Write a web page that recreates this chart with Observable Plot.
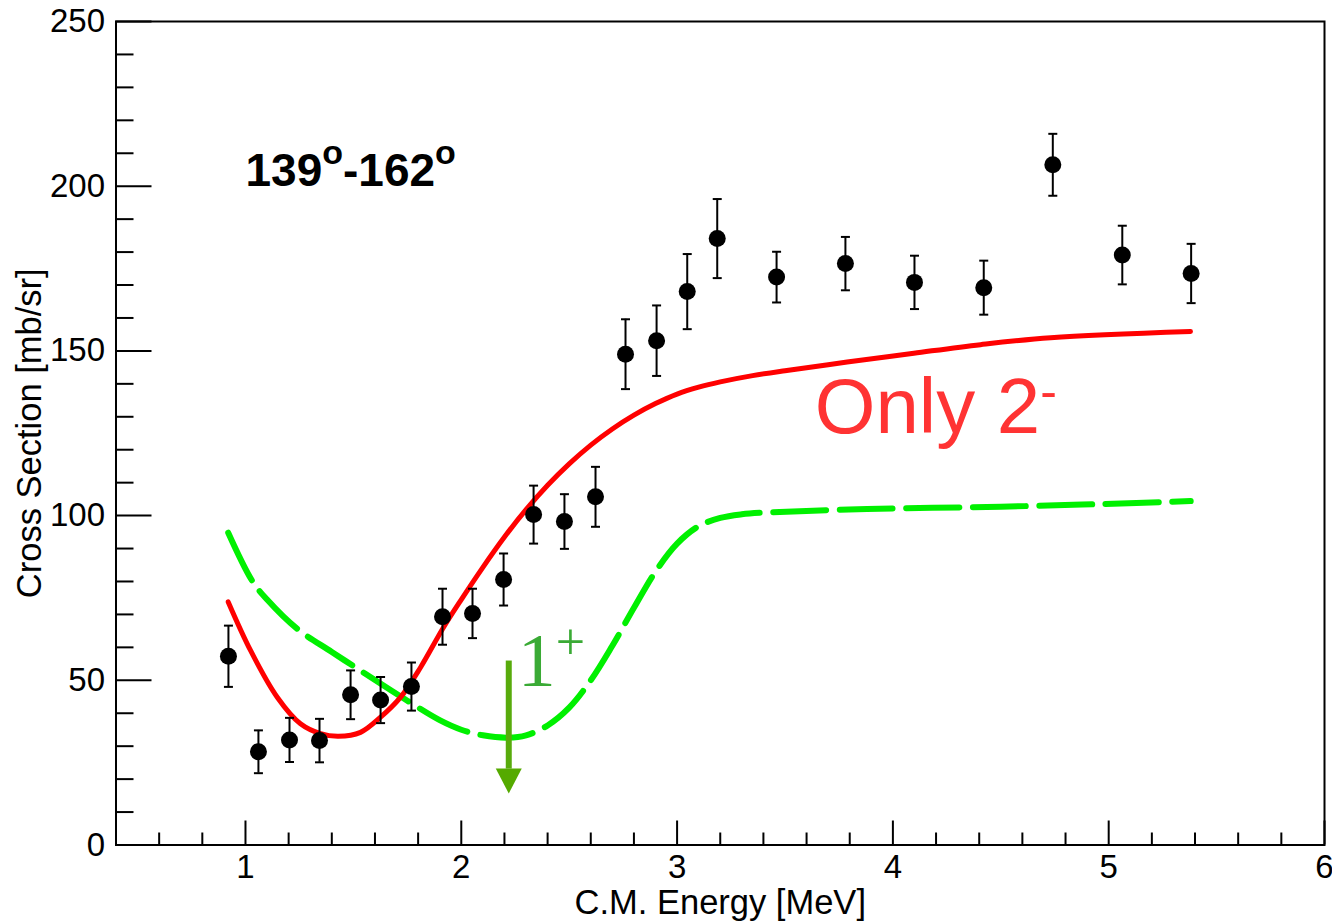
<!DOCTYPE html>
<html>
<head>
<meta charset="utf-8">
<script src="https://cdn.jsdelivr.net/npm/d3@7"></script>
<script src="https://cdn.jsdelivr.net/npm/@observablehq/plot@0.6"></script>
<style>
  html, body { margin: 0; padding: 0; background: #fff; }
  #chart svg { display: block; }
</style>
</head>
<body>
<div id="chart"></div>
<script>
// ---- measured data points (C.M. energy [MeV], cross section [mb/sr], error) ----
const energy = [0.921, 1.060, 1.204, 1.343, 1.487, 1.626, 1.769, 1.913, 2.052, 2.196, 2.335, 2.478,
                2.622, 2.761, 2.905, 3.047, 3.186, 3.461, 3.780, 4.100, 4.421, 4.741, 5.063, 5.382];
const crossSection = [57.3, 28.3, 31.9, 31.7, 45.6, 44.0, 48.1, 69.3, 70.3, 80.6, 100.3, 98.2,
                      105.7, 149.0, 153.1, 168.0, 184.1, 172.4, 176.5, 170.8, 169.2, 206.5, 179.1, 173.5];
const crossError = [9.3, 6.5, 6.7, 6.6, 7.4, 7.0, 7.3, 8.5, 7.5, 7.9, 8.8, 8.3,
                    9.1, 10.6, 10.7, 11.4, 12.0, 7.7, 8.1, 8.1, 8.2, 9.4, 8.9, 9.0];

// ---- "Only 2-" calculation (red solid) ----
const only2Energy = [0.92, 1.024, 1.148, 1.255, 1.348, 1.431, 1.533, 1.626, 1.718, 1.811, 1.918, 2.0,
                     2.1, 2.2, 2.3, 2.4, 2.5, 2.6, 2.7, 2.8, 2.9, 3.0, 3.1, 3.2,
                     3.35, 3.5, 3.788, 4.097, 4.406, 4.731, 5.379];
const only2Cross = [73.8, 59.0, 44.8, 36.8, 33.8, 33.0, 34.2, 38.8, 44.8, 53.9, 66.1, 74.5,
                    84.3, 93.5, 101.8, 109.2, 115.7, 121.4, 126.3, 130.5, 134.0, 136.9, 139.0, 140.6,
                    142.5, 144.0, 146.6, 149.3, 151.9, 154.0, 155.9];

// ---- "1+" calculation (green dashed) ----
const plus1Energy = [0.92, 1.031, 1.1, 1.24, 1.4, 1.55, 1.75, 1.9, 2.0, 2.1, 2.214, 2.3,
                     2.4, 2.5, 2.6, 2.7, 2.8, 2.9, 3.0, 3.1, 3.2, 3.3, 3.4, 3.88,
                     4.5, 4.96, 5.38];
const plus1Cross = [94.8, 80.2, 74.5, 65.6, 58.6, 52.2, 43.8, 37.9, 35.0, 33.3, 32.6, 33.3,
                    36.3, 41.7, 50.0, 60.5, 72.0, 83.0, 91.5, 96.8, 99.3, 100.4, 100.9, 102.0,
                    102.7, 103.5, 104.4];

// ---- 1+ resonance arrow ----
const arrowEnergy = [2.22];
const arrowTop = [56];
const arrowBase = [23.2];
const arrowTip = [15.6];

// ---- ticks ----
const xMajorTicks = [1, 2, 3, 4, 5, 6];
const xMinorTicks = [0.6, 0.8, 1.2, 1.4, 1.6, 1.8, 2.2, 2.4, 2.6, 2.8, 3.2, 3.4, 3.6, 3.8,
                     4.2, 4.4, 4.6, 4.8, 5.2, 5.4, 5.6, 5.8];
const yMajorTicks = [0, 50, 100, 150, 200, 250];
const yMinorTicks = [10, 20, 30, 40, 60, 70, 80, 90, 110, 120, 130, 140, 160, 170, 180, 190,
                     210, 220, 230, 240];

// ---- texts ----
const xTitle = "C.M. Energy [MeV]";
const yTitle = "Cross Section [mb/sr]";
const angleLabel = "139o-162o";
const only2Label = "Only 2-";
const plus1Label = "1+";

// tables built from arrays
const points = energy.map((e, i) => ({e, y: crossSection[i], lo: crossSection[i] - crossError[i], hi: crossSection[i] + crossError[i]}));
const only2 = only2Energy.map((e, i) => ({e, y: only2Cross[i]}));
const plus1 = plus1Energy.map((e, i) => ({e, y: plus1Cross[i]}));
const arrow = arrowEnergy.map((e, i) => ({e, top: arrowTop[i], base: arrowBase[i], tip: arrowTip[i]}));

const SANS = '"Liberation Sans", Arial, Helvetica, sans-serif';
const SERIF = '"Liberation Serif", "Times New Roman", serif';

const capSymbol = {draw(ctx) { ctx.moveTo(-4.5, 0); ctx.lineTo(4.5, 0); }};
const headSymbol = {draw(ctx) { ctx.moveTo(0, 0); ctx.lineTo(-13, -25); ctx.lineTo(13, -25); ctx.closePath(); }};

const chart = Plot.plot({
  width: 1332,
  height: 922,
  marginLeft: 115.5,
  marginRight: 8,
  marginTop: 21,
  marginBottom: 77.5,
  style: {fontFamily: SANS, fontSize: "33px", background: "#fff", color: "#000"},
  x: {domain: [0.4, 6], label: null},
  y: {domain: [0, 250], label: null},
  marks: [
    // inner ticks
    Plot.axisY({ticks: yMinorTicks, tickSize: -18, tickFormat: () => "", label: null, strokeWidth: 2}),
    Plot.axisY({ticks: yMajorTicks, tickSize: -36, tickFormat: () => "", label: null, strokeWidth: 2}),
    Plot.axisX({ticks: xMinorTicks, tickSize: -12, tickFormat: () => "", label: null, strokeWidth: 2}),
    Plot.axisX({ticks: xMajorTicks, tickSize: -24, tickFormat: () => "", label: null, strokeWidth: 2}),
    // tick labels
    Plot.axisY({ticks: yMajorTicks, tickSize: 0, tickPadding: 11, tickFormat: d3.format("d"), label: null, fontSize: 33}),
    Plot.axisX({ticks: xMajorTicks, tickSize: 0, tickPadding: 10, tickFormat: d3.format("d"), label: null, fontSize: 33}),
    Plot.frame({stroke: "#000", strokeWidth: 2}),
    // axis titles
    Plot.text([xTitle], {frameAnchor: "bottom", dy: 58, textAnchor: "middle", lineAnchor: "middle", fontSize: 34.5, fill: "#000"}),
    Plot.text([yTitle], {frameAnchor: "left", dx: -86, rotate: -90, textAnchor: "middle", lineAnchor: "middle", fontSize: 34.5, fill: "#000"}),
    // curves
    Plot.line(plus1, {x: "e", y: "y", stroke: "#00f000", strokeWidth: 6, strokeDasharray: "53,13.5", curve: "catmull-rom"}),
    Plot.line(only2, {x: "e", y: "y", stroke: "#ff0000", strokeWidth: 5, curve: "catmull-rom"}),
    // data with errors
    Plot.ruleX(points, {x: "e", y1: "lo", y2: "hi", stroke: "#000", strokeWidth: 2}),
    Plot.dot(points, {x: "e", y: "lo", symbol: capSymbol, stroke: "#000", fill: "none", strokeWidth: 2}),
    Plot.dot(points, {x: "e", y: "hi", symbol: capSymbol, stroke: "#000", fill: "none", strokeWidth: 2}),
    Plot.dot(points, {x: "e", y: "y", r: 8.5, fill: "#000", stroke: "none"}),
    // arrow
    Plot.link(arrow, {x1: "e", x2: "e", y1: "top", y2: "base", stroke: "#58ab0c", strokeWidth: 6}),
    Plot.dot(arrow, {x: "e", y: "tip", symbol: headSymbol, fill: "#55aa00", stroke: "none"}),
    // annotations
    Plot.text([angleLabel], {x: [1.0], y: [200], textAnchor: "start", lineAnchor: "bottom", fontSize: 46, fontWeight: "bold", fill: "#000"}),
    Plot.text([only2Label], {x: [3.638], y: [125.1], textAnchor: "start", lineAnchor: "bottom", fontSize: 78, fill: "#ff3333"}),
    Plot.text([plus1Label], {x: [2.262], y: [48.4], textAnchor: "start", lineAnchor: "bottom", fontSize: 76, fontFamily: SERIF, fill: "#3aaa35"})
  ]
});

// superscripts as tspans
function superscript(svg, match, parts) {
  d3.select(svg).selectAll("text").filter(function() { return this.textContent === match; }).each(function() {
    const t = d3.select(this);
    t.text(null);
    for (const [s, size, dy] of parts) {
      const sp = t.append("tspan").text(s);
      if (size) sp.attr("font-size", size);
      if (dy) sp.attr("dy", dy);
    }
  });
}
superscript(chart, angleLabel, [["139"], ["o", 34, -22], ["-162", 46, 22], ["o", 34, -22]]);
superscript(chart, only2Label, [["Only 2"], ["-", 50, -25]]);
superscript(chart, plus1Label, [["1"], ["+", 52, -27]]);

document.getElementById("chart").appendChild(chart);
</script>
</body>
</html>
